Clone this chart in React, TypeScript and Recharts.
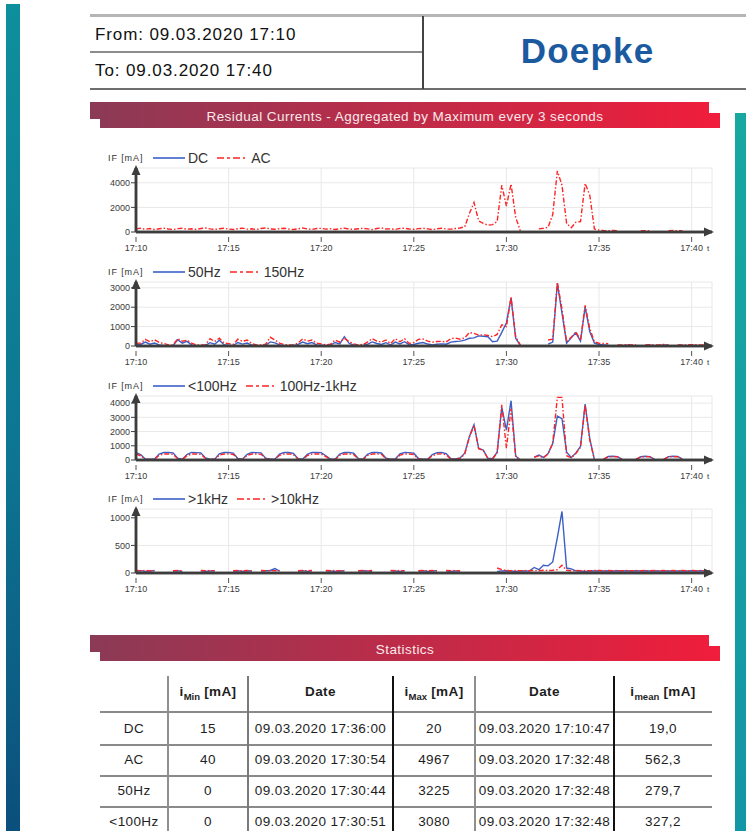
import React from "react";
import {
  CartesianGrid,
  Line,
  LineChart,
  ReferenceDot,
  ReferenceLine,
  XAxis,
  YAxis,
} from "recharts";

const FONT = '"Liberation Sans", Arial, Helvetica, sans-serif';
const BLUE = "#3c5fc6";
const RED = "#ff2424";
const AXIS = "#3d3d3d";
const GRID = "#e8e8e8";
const TEXT = "#3a3a3a";

// sampling grid, minutes after 17:10 (every 15 s)
const MINUTES = [
  0, 0.25, 0.5, 0.75, 1, 1.25, 1.5, 1.75, 2, 2.25,
  2.5, 2.75, 3, 3.25, 3.5, 3.75, 4, 4.25, 4.5, 4.75,
  5, 5.25, 5.5, 5.75, 6, 6.25, 6.5, 6.75, 7, 7.25,
  7.5, 7.75, 8, 8.25, 8.5, 8.75, 9, 9.25, 9.5, 9.75,
  10, 10.25, 10.5, 10.75, 11, 11.25, 11.5, 11.75, 12, 12.25,
  12.5, 12.75, 13, 13.25, 13.5, 13.75, 14, 14.25, 14.5, 14.75,
  15, 15.25, 15.5, 15.75, 16, 16.25, 16.5, 16.75, 17, 17.25,
  17.5, 17.75, 18, 18.25, 18.5, 18.75, 19, 19.25, 19.5, 19.75,
  20, 20.25, 20.5, 20.75, 21, 21.25, 21.5, 21.75, 22, 22.25,
  22.5, 22.75, 23, 23.25, 23.5, 23.75, 24, 24.25, 24.5, 24.75,
  25, 25.25, 25.5, 25.75, 26, 26.25, 26.5, 26.75, 27, 27.25,
  27.5, 27.75, 28, 28.25, 28.5, 28.75, 29, 29.25, 29.5, 29.75,
  30, 30.25, 30.5, 30.75, 31,
];
const X_TICKS = [0, 5, 10, 15, 20, 25, 30];
const X_LABELS = ["17:10", "17:15", "17:20", "17:25", "17:30", "17:35", "17:40"];

// panel 1: DC / AC
const DC = [
  19, 19, 20, 20, 19, 19, 18, 19, 19, 19,
  19, 18, 19, 19, 19, 20, 19, 19, 18, 19,
  19, 19, 19, 18, 19, 19, 19, 20, 19, 19,
  18, 19, 19, 19, 19, 19, 18, 19, 19, 20,
  19, 19, 18, 19, 19, 19, 19, 19, 20, 19,
  19, 18, 19, 19, 19, 19, 19, 18, 19, 19,
  20, 19, 19, 19, 18, 19, 19, 19, 19, 19,
  19, 20, 19, 19, 18, 19, 19, 19, 19, 18,
  19, 19, 20, 19, 19, 19, 18, 19, 19, 19,
  19, 19, 19, 18, 19, 20, 19, 19, 19, 19,
  19, 19, 18, 19, 15, 18, 19, 19, 19, 19,
  19, 18, 19, 19, 19, 19, 20, 19, 19, 18,
  19, 19, 19, 19, 19,
];
const AC = [
  250, 300, 220, 280, 200, 260, 310, 240, 200, 270,
  300, 230, 260, 200, 280, 320, 250, 210, 260, 300,
  240, 200, 270, 310, 230, 260, 200, 290, 330, 250,
  220, 270, 300, 240, 200, 260, 320, 250, 210, 280,
  300, 230, 260, 200, 270, 310, 240, 220, 260, 300,
  250, 200, 280, 330, 240, 260, 210, 290, 310, 240,
  220, 270, 300, 250, 200, 260, 310, 240, 230, 280,
  330, 420, 1500, 2400, 900, 700, 550, 600, 850, 3800,
  2100, 3900, 1200, 100, null, null, null, 250, 300, 380,
  1400, 4967, 3800, 700, 350, 800, 850, 3950, 3000, 250,
  150, 120, 110, 120, 110, null, null, null, null, 100,
  110, 100, null, null, null, 110, 120, 100, 110, null,
  null, null, null, null, null,
];

// panel 2: 50Hz / 150Hz
const HZ50 = [
  60, 80, 200, 90, 150, 60, 30, 10, 20, 320,
  150, 240, 60, 20, 10, 30, 170, 90, 300, 70,
  40, 20, 180, 100, 150, 50, 20, 10, 40, 210,
  160, 60, 20, 10, 20, 80, 200, 120, 180, 60,
  40, 20, 50, 180, 110, 480, 140, 50, 20, 30,
  90, 210, 130, 80, 170, 50, 200, 110, 220, 60,
  80, 140, 180, 100, 60, 90, 110, 90, 200, 230,
  250, 300, 400, 420, 520, 500, 480, 220, 250, 700,
  1200, 2480, 400, 30, null, null, null, null, null, 100,
  200, 3225, 1700, 150, 420, 680, 250, 2000, 750, 150,
  80, 60, 40, null, 30, 20, 40, 30, 20, null,
  30, 40, 20, 30, 50, 30, null, 40, 30, 20,
  40, 30, 20, 30, 40,
];
const HZ150 = [
  140, 150, 340, 220, 320, 180, 130, 60, 50, 380,
  250, 300, 150, 60, 50, 70, 380, 230, 400, 160,
  120, 80, 350, 240, 310, 130, 60, 50, 90, 450,
  310, 150, 70, 50, 60, 160, 370, 250, 310, 140,
  110, 60, 90, 310, 200, 400, 230, 110, 60, 80,
  200, 380, 250, 200, 310, 120, 380, 220, 380, 130,
  180, 340, 360, 250, 200, 230, 240, 210, 380, 410,
  350, 420, 690, 650, 560, 580, 540, 480, 600, 1090,
  1000, 2520, 480, 60, null, null, null, null, null, 310,
  350, 3290, 1900, 220, 450, 740, 280, 2100, 900, 220,
  140, 130, 120, null, 60, 50, 70, 60, 50, null,
  60, 70, 50, 60, 80, 60, null, 60, 50, 60,
  70, 60, 50, 60, 70,
];

// panel 3: <100Hz / 100Hz-1kHz
const BELOW100 = [
  520, 380, 70, 50, 80, 420, 530, 530, 500, 130,
  50, 380, 530, 520, 500, 150, 50, 60, 430, 530,
  530, 480, 110, 50, 400, 530, 520, 500, 130, 50,
  60, 420, 530, 530, 470, 90, 50, 400, 530, 530,
  520, 300, 60, 50, 420, 530, 530, 480, 100, 50,
  400, 530, 530, 490, 120, 50, 70, 430, 530, 520,
  480, 100, 50, 60, 380, 520, 530, 450, 90, 70,
  150, 480, 1650, 2480, 820, 700, 120, 90, 550, 3700,
  2100, 4170, 280, 0, null, null, 200, 350, 180, 450,
  1150, 3080, 2900, 550, 180, 500, 950, 3930, 1500, 40,
  null, 60, 250, 260, 240, 50, null, null, 50, 230,
  260, 240, 50, null, 50, 240, 260, 250, 60, null,
  null, null, null, null, null,
];
const BAND100_1K = [
  420, 300, 40, 30, 50, 330, 420, 430, 400, 90,
  30, 300, 420, 420, 400, 110, 30, 40, 340, 420,
  430, 390, 80, 30, 310, 420, 420, 400, 100, 30,
  40, 330, 420, 430, 380, 60, 30, 310, 420, 430,
  420, 230, 40, 30, 330, 420, 430, 390, 70, 30,
  310, 420, 430, 400, 90, 30, 50, 340, 420, 420,
  390, 70, 30, 40, 300, 420, 430, 360, 60, 50,
  120, 420, 1600, 2450, 800, 680, 100, 80, 500, 3880,
  830, 3600, 250, 0, null, null, 180, 300, 160, 420,
  1180, 4400, 4400, 300, 160, 450, 900, 3850, 1400, 30,
  null, 50, 230, 240, 220, 40, null, null, 40, 210,
  240, 220, 40, null, 40, 220, 240, 230, 50, null,
  null, null, null, null, null,
];

// panel 4: >1kHz / >10kHz
const ABOVE1K = [
  35, 40, 30, 35, 40, null, null, null, 35, 40,
  30, null, null, null, 40, 30, 35, 40, null, null,
  null, 35, 40, 30, 40, 35, null, 35, 40, 45,
  80, 35, null, null, null, 35, 40, 30, 40, null,
  null, 40, 35, 30, 40, 35, null, null, 35, 40,
  35, 30, null, null, null, 40, 35, 30, 40, null,
  null, 35, 40, 30, 35, 40, null, 40, 30, 35,
  40, null, null, null, null, null, null, null, 30, 35,
  40, 35, 30, 40, 35, 40, 100, 60, 140, 130,
  200, 640, 1115, 90, 75, 40, 35, 30, 40, 35,
  40, 35, 40, 35, 40, 35, 40, 35, 40, 35,
  40, 35, 40, 35, 40, 35, 40, 35, 40, 35,
  40, 35, 40, 35, 40,
];
const ABOVE10K = [
  45, 40, 45, 40, 45, null, null, null, 40, 45,
  40, null, null, null, 45, 40, 45, 40, null, null,
  null, 40, 45, 40, 45, 40, null, 45, 40, 45,
  40, 45, null, null, null, 40, 45, 40, 45, null,
  null, 45, 40, 45, 40, 45, null, null, 40, 45,
  40, 45, null, null, null, 45, 40, 45, 40, null,
  null, 40, 45, 40, 45, 40, null, 45, 40, 45,
  40, null, null, null, null, null, null, null, 90, 60,
  45, 40, 45, 40, 45, 40, 45, 40, 50, 45,
  50, 60, 140, 50, 40, 45, 40, 45, 40, 45,
  45, 40, 45, 40, 45, 40, 45, 40, 45, 40,
  45, 40, 45, 40, 45, 40, 45, 40, 45, 40,
  45, 40, 45, 40, 45,
];

// statistics table
const ROW_NAMES = ["DC", "AC", "50Hz", "<100Hz"];
const MIN_MA = ["15", "40", "0", "0"];
const MIN_DATE = ["09.03.2020 17:36:00", "09.03.2020 17:30:54", "09.03.2020 17:30:44", "09.03.2020 17:30:51"];
const MAX_MA = ["20", "4967", "3225", "3080"];
const MAX_DATE = ["09.03.2020 17:10:47", "09.03.2020 17:32:48", "09.03.2020 17:32:48", "09.03.2020 17:32:48"];
const MEAN_MA = ["19,0", "562,3", "279,7", "327,2"];

const PLOT_H = 64;
const M_TOP = 8;
const X_AXIS_H = 26;

function XTick(props: any) {
  const { x, y, payload } = props;
  const label = X_LABELS[X_TICKS.indexOf(payload.value)];
  return (
    <g>
      <line x1={x} x2={x} y1={y} y2={y + 5} stroke="#555" strokeWidth={1} />
      <text x={x} y={y + 14} textAnchor="middle" fontSize={9} fill={TEXT} fontFamily={FONT}>
        {label}
      </text>
    </g>
  );
}

const XArrow = (p: any) => (
  <g>
    <polygon points={`${p.cx + 2},${p.cy} ${p.cx - 8},${p.cy - 4.5} ${p.cx - 8},${p.cy + 4.5}`} fill={AXIS} />
    <text x={p.cx - 5} y={p.cy + 19} fontSize={8} fill={TEXT} fontFamily={FONT}>
      t
    </text>
  </g>
);

const YArrow = (p: any) => (
  <polygon points={`${p.cx},${p.cy - 3} ${p.cx - 4.5},${p.cy + 7} ${p.cx + 4.5},${p.cy + 7}`} fill={AXIS} />
);

function PanelLegend({ y, names }: { y: number; names: string[] }) {
  return (
    <div
      style={{
        position: "absolute",
        left: 108,
        top: y - 9,
        height: 18,
        display: "flex",
        alignItems: "center",
        color: "#333",
        whiteSpace: "nowrap",
      }}
    >
      <span style={{ fontSize: 9, letterSpacing: 0.9, width: 45 }}>IF [mA]</span>
      <svg width={32} height={6}>
        <line x1={0} x2={32} y1={3} y2={3} stroke={BLUE} strokeWidth={1.6} />
      </svg>
      <span style={{ fontSize: 14, marginLeft: 3 }}>{names[0]}</span>
      <svg width={28} height={6} style={{ marginLeft: 9 }}>
        <line x1={0} x2={28} y1={3} y2={3} stroke={RED} strokeWidth={1.6} strokeDasharray="7 3 3 3" />
      </svg>
      <span style={{ fontSize: 14, marginLeft: 6 }}>{names[1]}</span>
    </div>
  );
}

function Panel({
  zeroY,
  yMax,
  yTicks,
  names,
  a,
  b,
}: {
  zeroY: number;
  yMax: number;
  yTicks: number[];
  names: string[];
  a: (number | null)[];
  b: (number | null)[];
}) {
  const data = MINUTES.map((t, i) => ({ t, a: a[i], b: b[i] }));
  return (
    <>
      <PanelLegend y={zeroY - 74} names={names} />
      <div style={{ position: "absolute", left: 90, top: zeroY - PLOT_H - M_TOP }}>
        <LineChart
          width={646}
          height={M_TOP + PLOT_H + X_AXIS_H}
          data={data}
          margin={{ top: M_TOP, right: 24, bottom: 0, left: 6 }}
        >
          <CartesianGrid stroke={GRID} strokeWidth={1} />
          <XAxis
            dataKey="t"
            type="number"
            domain={[0, 31.1]}
            ticks={X_TICKS}
            interval={0}
            height={X_AXIS_H}
            axisLine={{ stroke: AXIS, strokeWidth: 2.5 }}
            tickLine={false}
            tickSize={5}
            tickMargin={0}
            tick={XTick}
          />
          <YAxis
            type="number"
            domain={[0, yMax]}
            ticks={yTicks}
            interval={0}
            width={40}
            axisLine={{ stroke: AXIS, strokeWidth: 2.5 }}
            tickLine={{ stroke: AXIS, strokeWidth: 1 }}
            tickSize={5}
            tickMargin={1}
            tick={{ fill: TEXT, fontSize: 9, fontFamily: FONT }}
          />
          <Line
            type="linear"
            dataKey="a"
            stroke={BLUE}
            strokeWidth={1.4}
            dot={false}
            isAnimationActive={false}
          />
          <Line
            type="linear"
            dataKey="b"
            stroke={RED}
            strokeWidth={1.4}
            strokeDasharray="5 2 1.5 2"
            dot={false}
            isAnimationActive={false}
          />
          <ReferenceLine y={0} stroke={AXIS} strokeWidth={2.5} />
          <ReferenceLine x={0} stroke={AXIS} strokeWidth={2.5} />
          <ReferenceDot x={31.1} y={0} r={0} ifOverflow="visible" shape={XArrow} />
          <ReferenceDot x={0} y={yMax} r={0} ifOverflow="visible" shape={YArrow} />
        </LineChart>
      </div>
    </>
  );
}

function Banner({ top, text, id }: { top: number; text: string; id: string }) {
  return (
    <svg style={{ position: "absolute", left: 90, top }} width={632} height={27}>
      <defs>
        <linearGradient id={id} x1="0" x2="1" y1="0" y2="0">
          <stop offset="0" stopColor="#8b3a56" />
          <stop offset="1" stopColor="#f01d3b" />
        </linearGradient>
      </defs>
      <polygon points="0,0 619,0 619,11 630,11 630,26 10,26 10,17 0,17" fill={`url(#${id})`} />
      <text x={315} y={18.5} textAnchor="middle" fill="#f8eaec" fontSize={13.5} letterSpacing={0.45} fontFamily={FONT}>
        {text}
      </text>
    </svg>
  );
}

const COL_EDGES = [100, 168, 248, 393, 475, 614, 712];
const ROW_CENTERS = [729, 760, 791, 822];

function Cell({ col, cy, children, bold }: { col: number; cy: number; children: React.ReactNode; bold?: boolean }) {
  return (
    <div
      style={{
        position: "absolute",
        left: COL_EDGES[col],
        width: COL_EDGES[col + 1] - COL_EDGES[col],
        top: cy - 10,
        height: 20,
        lineHeight: "20px",
        textAlign: "center",
        fontSize: 13.5,
        letterSpacing: 0.4,
        fontWeight: bold ? 700 : 400,
        color: "#1e1e1e",
        whiteSpace: "nowrap",
      }}
    >
      {children}
    </div>
  );
}

function StatsTable() {
  const sub = (s: string) => <sub style={{ fontSize: 9.5, letterSpacing: 0 }}>{s}</sub>;
  const cols = [ROW_NAMES, MIN_MA, MIN_DATE, MAX_MA, MAX_DATE, MEAN_MA];
  return (
    <>
      {[712, 745, 776, 807].map((y) => (
        <div key={y} style={{ position: "absolute", left: 100, top: y - 1, width: 612, height: 2, background: "#8a8a8a" }} />
      ))}
      {[
        [168, "#8f8f8f"],
        [248, "#7a7a7a"],
        [393, "#111"],
        [475, "#8f8f8f"],
        [614, "#111"],
      ].map(([x, c]) => (
        <div key={x as number} style={{ position: "absolute", left: (x as number) - 1, top: 676, width: 1.6, height: 160, background: c as string }} />
      ))}
      <Cell col={1} cy={692} bold>
        i{sub("Min")} [mA]
      </Cell>
      <Cell col={2} cy={692} bold>
        Date
      </Cell>
      <Cell col={3} cy={692} bold>
        i{sub("Max")} [mA]
      </Cell>
      <Cell col={4} cy={692} bold>
        Date
      </Cell>
      <Cell col={5} cy={692} bold>
        i{sub("mean")} [mA]
      </Cell>
      {ROW_CENTERS.map((cy, r) =>
        cols.map((col, c) => (
          <Cell key={`${r}-${c}`} col={c} cy={cy}>
            {col[r]}
          </Cell>
        ))
      )}
    </>
  );
}

export default function App() {
  return (
    <div
      style={{
        position: "absolute",
        left: 0,
        top: 0,
        width: 746,
        height: 831,
        overflow: "hidden",
        background: "#fff",
        fontFamily: FONT,
      }}
    >
      {/* side bars */}
      <div style={{ position: "absolute", left: 6, top: 4, width: 14, height: 827, background: "linear-gradient(#0e8f9d, #0d7592 55%, #0b4f7c)" }} />
      <div style={{ position: "absolute", left: 735, top: 113, width: 11, height: 718, background: "linear-gradient(#17a8a0, #1396a5)" }} />

      {/* header */}
      <div style={{ position: "absolute", left: 90, top: 14, width: 656, height: 3, background: "#b5b5b5" }} />
      <div style={{ position: "absolute", left: 90, top: 51, width: 333, height: 2, background: "#8c8c8c" }} />
      <div style={{ position: "absolute", left: 90, top: 88, width: 656, height: 2, background: "#6e6e6e" }} />
      <div style={{ position: "absolute", left: 422, top: 16, width: 1.5, height: 73, background: "#444" }} />
      <div style={{ position: "absolute", left: 95, top: 25, fontSize: 17, lineHeight: "20px", letterSpacing: 0.9, color: "#111" }}>
        From: 09.03.2020 17:10
      </div>
      <div style={{ position: "absolute", left: 95, top: 61, fontSize: 17, lineHeight: "20px", letterSpacing: 0.9, color: "#111" }}>
        To: 09.03.2020 17:40
      </div>
      <div
        style={{
          position: "absolute",
          left: 426,
          width: 323,
          top: 31,
          fontSize: 35,
          lineHeight: "40px",
          fontWeight: 700,
          letterSpacing: 1.2,
          textAlign: "center",
          color: "#1c5a9f",
        }}
      >
        Doepke
      </div>

      <Banner top={102} id="bannerA" text="Residual Currents - Aggregated by Maximum every 3 seconds" />

      <Panel zeroY={232} yMax={5200} yTicks={[0, 2000, 4000]} names={["DC", "AC"]} a={DC} b={AC} />
      <Panel zeroY={346} yMax={3300} yTicks={[0, 1000, 2000, 3000]} names={["50Hz", "150Hz"]} a={HZ50} b={HZ150} />
      <Panel zeroY={460} yMax={4500} yTicks={[0, 1000, 2000, 3000, 4000]} names={["<100Hz", "100Hz-1kHz"]} a={BELOW100} b={BAND100_1K} />
      <Panel zeroY={573} yMax={1160} yTicks={[0, 500, 1000]} names={[">1kHz", ">10kHz"]} a={ABOVE1K} b={ABOVE10K} />

      <Banner top={635} id="bannerB" text="Statistics" />
      <StatsTable />
    </div>
  );
}
